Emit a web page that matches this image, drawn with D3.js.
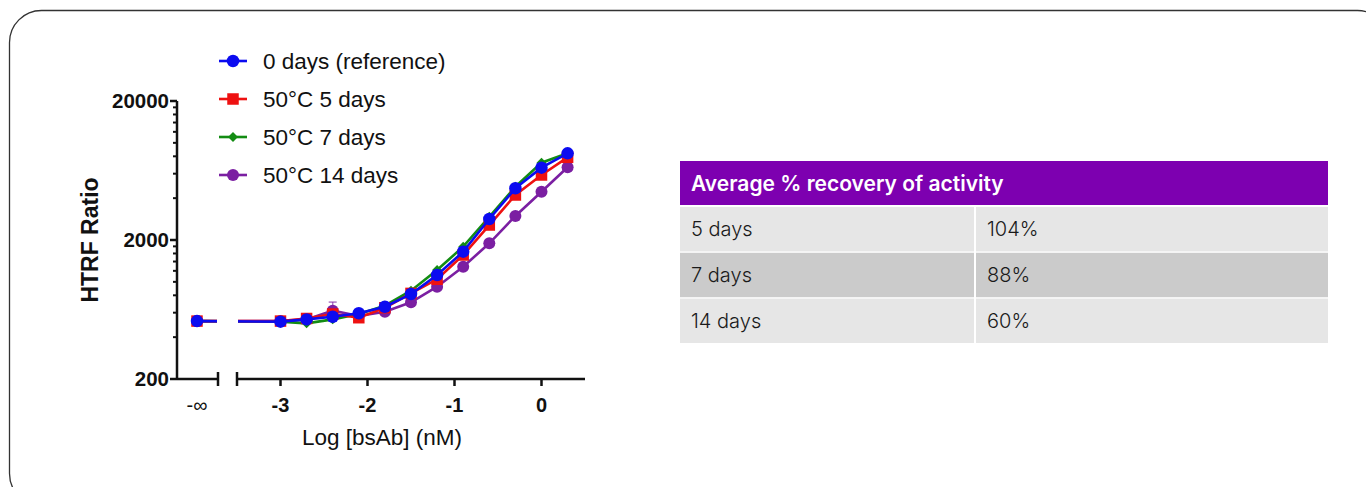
<!DOCTYPE html>
<html>
<head>
<meta charset="utf-8">
<script src="https://cdn.jsdelivr.net/npm/d3@7/dist/d3.min.js"></script>
<style>
  html, body { margin: 0; padding: 0; background: #fff; }
  svg { display: block; }
  .chart text { font-family: "Liberation Sans", Arial, sans-serif; fill: #111; }
  .tbl text { font-family: "Inter", "Noto Sans", sans-serif; }
</style>
</head>
<body>
<svg id="graph" width="1366" height="487"></svg>
<script>
// dose points (log nM); the first one is the blank, drawn at -infinity
const logDose = [null, -3, -2.7, -2.4, -2.1, -1.8, -1.5, -1.2, -0.9, -0.6, -0.3, 0, 0.3];

const day0   = [522, 517, 537, 561, 594, 662, 817, 1120, 1648, 2832, 4710, 6630, 8410];
const day5   = [522, 522, 545, 587, 552, 651, 826, 1043, 1560, 2563, 4214, 5870, 7870];
const day7   = [522, 517, 503, 537, 587, 673, 863, 1217, 1790, 2940, 4840, 7190, 8410];
const day14  = [522, 522, 537, 620, 568, 610, 713, 923, 1285, 1893, 2978, 4450, 6670];
const day14Err = [0, 0, 0, 95, 0, 0, 0, 0, 0, 0, 0, 0, 0];

const seriesNames = ['0 days (reference)', '50\u00B0C 5 days', '50\u00B0C 7 days', '50\u00B0C 14 days'];
const xTicks = [-3, -2, -1, 0];
const yMajor = [200, 2000, 20000];

const tableHeader = 'Average % recovery of activity';
const tableRows = ['5 days', '7 days', '14 days'];
const tableValues = ['104%', '88%', '60%'];

const svg = d3.select('#graph');

// card outline
svg.append('rect')
    .attr('x', 9.5).attr('y', 10.5)
    .attr('width', 1380).attr('height', 495)
    .attr('rx', 32)
    .attr('fill', 'none')
    .attr('stroke', '#333')
    .attr('stroke-width', 1.3);

// ---- chart ----
const chart = svg.append('g').attr('class', 'chart');

const y = d3.scaleLog().domain([200, 20000]).range([379, 101]);
const x = d3.scaleLinear().domain([-3.5, 0.5]).range([237, 585]);
const xInf = 197;           // position of the -inf point
const axisX = 177;
const seg1End = 218;

const px = v => v === null ? xInf : x(v);

// y axis
chart.append('line')
    .attr('x1', axisX).attr('x2', axisX)
    .attr('y1', y(20000)).attr('y2', y(200))
    .attr('stroke', '#111').attr('stroke-width', 2.5);

const minor = [];
[200, 2000].forEach(d => { for (let k = 2; k <= 9; k++) minor.push(d * k); });
chart.selectAll('.ymin').data(minor).enter().append('line')
    .attr('x1', axisX - 4).attr('x2', axisX)
    .attr('y1', d => y(d)).attr('y2', d => y(d))
    .attr('stroke', '#111').attr('stroke-width', 2);
chart.selectAll('.ymaj').data(yMajor).enter().append('line')
    .attr('x1', axisX - 7).attr('x2', axisX)
    .attr('y1', d => y(d)).attr('y2', d => y(d))
    .attr('stroke', '#111').attr('stroke-width', 2.5);
chart.selectAll('.ylab').data(yMajor).enter().append('text')
    .attr('x', axisX - 8).attr('y', d => y(d) + 7)
    .attr('text-anchor', 'end')
    .attr('font-size', 20.5).attr('font-weight', 'bold')
    .text(d => d);

chart.append('text')
    .attr('transform', `translate(98,240) rotate(-90)`)
    .attr('text-anchor', 'middle')
    .attr('font-size', 23).attr('font-weight', 'bold')
    .text('HTRF Ratio');

// x axis, broken in two segments
const axisY = y(200);
chart.append('line')
    .attr('x1', axisX).attr('x2', seg1End)
    .attr('y1', axisY).attr('y2', axisY)
    .attr('stroke', '#111').attr('stroke-width', 2.5);
chart.append('line')
    .attr('x1', x(-3.5)).attr('x2', x(0.5))
    .attr('y1', axisY).attr('y2', axisY)
    .attr('stroke', '#111').attr('stroke-width', 2.5);
[seg1End, x(-3.5)].forEach(bx => {
    chart.append('line')
        .attr('x1', bx).attr('x2', bx)
        .attr('y1', axisY - 7).attr('y2', axisY + 7)
        .attr('stroke', '#111').attr('stroke-width', 2.5);
});
chart.selectAll('.xt').data(xTicks).enter().append('line')
    .attr('x1', d => x(d)).attr('x2', d => x(d))
    .attr('y1', axisY).attr('y2', axisY + 7)
    .attr('stroke', '#111').attr('stroke-width', 2.5);
chart.selectAll('.xl').data(xTicks).enter().append('text')
    .attr('x', d => x(d)).attr('y', axisY + 33)
    .attr('text-anchor', 'middle')
    .attr('font-size', 20).attr('font-weight', 'bold')
    .text(d => d === 0 ? '0' : '-' + Math.abs(d));
chart.append('text')
    .attr('x', xInf).attr('y', axisY + 33)
    .attr('text-anchor', 'middle')
    .attr('font-size', 20)
    .text('-\u221E');

chart.append('text')
    .attr('x', 382).attr('y', 445)
    .attr('text-anchor', 'middle')
    .attr('font-size', 22.5)
    .text('Log [bsAb] (nM)');

// clip out the axis break
svg.append('defs').append('clipPath').attr('id', 'brk')
    .selectAll('rect').data([[180, seg1End - 1], [x(-3.5) + 1, 600]]).enter().append('rect')
    .attr('x', d => d[0]).attr('y', 40).attr('width', d => d[1] - d[0]).attr('height', 345);

const series = [
    { name: seriesNames[3], values: day14, err: day14Err, color: '#7b1fa2', shape: 'circle', size: 12 },
    { name: seriesNames[2], values: day7, color: '#138c13', shape: 'diamond', size: 7 },
    { name: seriesNames[1], values: day5, color: '#ee1111', shape: 'square', size: 11.5 },
    { name: seriesNames[0], values: day0, color: '#0b0bf0', shape: 'circle', size: 12.5 }
];

const symbolFor = s => {
    const t = s.shape === 'circle' ? d3.symbolCircle : d3.symbolSquare;
    const area = s.shape === 'circle' ? Math.PI * (s.size / 2) ** 2 : s.size * s.size;
    return d3.symbol().type(t).size(area)();
};
const rot = s => s.shape === 'diamond' ? ' rotate(45)' : '';

const lineGen = d3.line().x((d, i) => px(logDose[i])).y(d => y(d));

const plot = chart.append('g');
series.forEach(s => {
    const g = plot.append('g');
    g.append('path')
        .attr('d', lineGen(s.values))
        .attr('clip-path', 'url(#brk)')
        .attr('fill', 'none')
        .attr('stroke', s.color)
        .attr('stroke-width', 2.6);
    if (s.err) {
        s.values.forEach((v, i) => {
            if (!s.err[i]) return;
            const cx = px(logDose[i]);
            g.append('line').attr('x1', cx).attr('x2', cx)
                .attr('y1', y(v)).attr('y2', y(v + s.err[i]))
                .attr('stroke', s.color).attr('stroke-width', 1.5).attr('opacity', 0.6);
            g.append('line').attr('x1', cx - 4).attr('x2', cx + 4)
                .attr('y1', y(v + s.err[i])).attr('y2', y(v + s.err[i]))
                .attr('stroke', s.color).attr('stroke-width', 1.5).attr('opacity', 0.6);
        });
    }
    g.selectAll('path.pt').data(s.values).enter().append('path')
        .attr('class', 'pt')
        .attr('transform', (d, i) => `translate(${px(logDose[i])},${y(d)})${rot(s)}`)
        .attr('d', symbolFor(s))
        .attr('fill', s.color);
});

// legend
const legendOrder = [series[3], series[2], series[1], series[0]];
const legend = chart.append('g');
legendOrder.forEach((s, i) => {
    const ly = 61 + i * 38;
    legend.append('line')
        .attr('x1', 219).attr('x2', 247)
        .attr('y1', ly).attr('y2', ly)
        .attr('stroke', s.color).attr('stroke-width', 2.6);
    legend.append('path')
        .attr('transform', `translate(233,${ly})${rot(s)}`)
        .attr('d', symbolFor(s))
        .attr('fill', s.color);
    legend.append('text')
        .attr('x', 263).attr('y', ly + 8)
        .attr('font-size', 22.5)
        .attr('fill', '#222')
        .text(s.name);
});

// ---- table ----
const tbl = svg.append('g').attr('class', 'tbl');
const tx0 = 680, tx1 = 1328, colSplit = 975;
tbl.append('rect')
    .attr('x', tx0).attr('y', 161).attr('width', tx1 - tx0).attr('height', 44)
    .attr('fill', '#7d00b0');
tbl.append('text')
    .attr('x', 691).attr('y', 191)
    .attr('font-size', 21).attr('font-weight', 600)
    .attr('fill', '#fff')
    .text(tableHeader);

const rowY = d3.scaleBand().domain(tableRows).range([207, 343]).paddingInner(0.03);
const rowFill = ['#e6e6e6', '#cbcbcb', '#e6e6e6'];
tableRows.forEach((r, i) => {
    const ry = rowY(r), h = rowY.bandwidth();
    tbl.append('rect').attr('x', tx0).attr('y', ry)
        .attr('width', colSplit - tx0 - 1).attr('height', h).attr('fill', rowFill[i]);
    tbl.append('rect').attr('x', colSplit + 1).attr('y', ry)
        .attr('width', tx1 - colSplit - 1).attr('height', h).attr('fill', rowFill[i]);
    tbl.append('text').attr('x', 691).attr('y', ry + h / 2 + 7)
        .attr('font-size', 20).attr('font-weight', 300).attr('fill', '#1a1a1a')
        .text(r);
    tbl.append('text').attr('x', 987).attr('y', ry + h / 2 + 7)
        .attr('font-size', 20).attr('font-weight', 300).attr('fill', '#1a1a1a')
        .text(tableValues[i]);
});
</script>
</body>
</html>
